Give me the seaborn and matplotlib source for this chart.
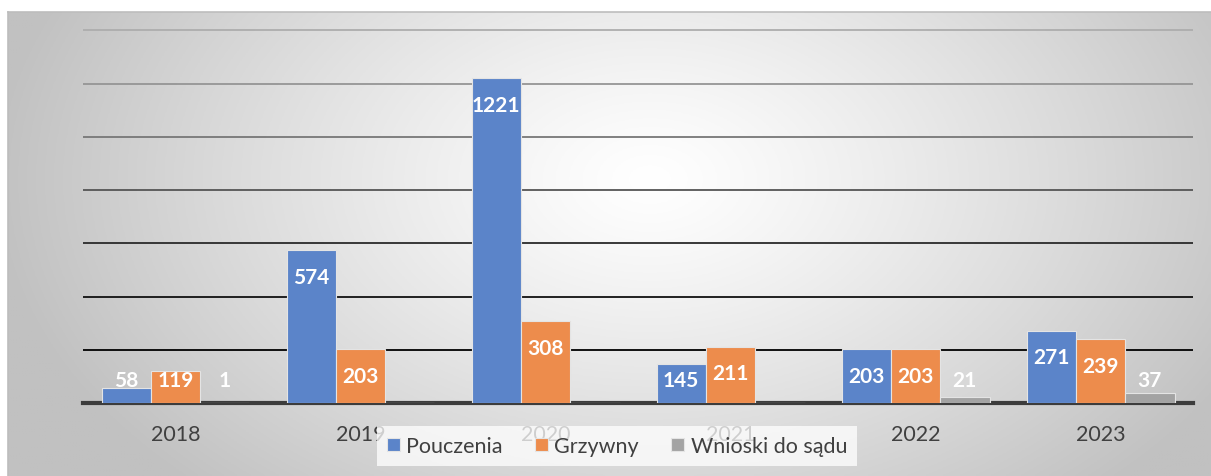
import numpy as np
import pandas as pd
import matplotlib.pyplot as plt
import seaborn as sns

# dane z wykresu
lata = ['2018', '2019', '2020', '2021', '2022', '2023']
pouczenia = [58, 574, 1221, 145, 203, 271]
grzywny = [119, 203, 308, 211, 203, 239]
wnioski = [1, 0, 0, 0, 21, 37]
serie = ['Pouczenia', 'Grzywny', 'Wnioski do sądu']
kolory = ['#5B84C9', '#ED8C4C', '#A3A3A3']

df = pd.DataFrame({
    'rok': lata * 3,
    'typ': [s for s in serie for _ in lata],
    'wartosc': pouczenia + grzywny + wnioski,
})

sns.set_style('white')
plt.rcParams['font.family'] = ['Lato', 'DejaVu Sans']

W, H = 1211, 477
fig = plt.figure(figsize=(W / 100, H / 100), dpi=100)
fig.patch.set_facecolor('white')

# background panel with radial gradient
bg = fig.add_axes([8 / W, 0, 1 - 8 / W, (H - 13) / H], zorder=-1)
xx, yy = np.meshgrid(np.linspace(8, W, 400), np.linspace(13, H, 200))
r = np.sqrt(((xx - 650) / 660) ** 2 + ((yy - 180) / 430) ** 2)
shade = 255 - 62 * np.clip(r, 0, 1) ** 1.2
img = np.dstack([shade, shade, shade]) / 255
bg.imshow(img, extent=[0, 1, 0, 1], aspect='auto', origin='upper')
bg.set_xlim(0, 1)
bg.set_ylim(0, 1)
bg.set_xticks([])
bg.set_yticks([])
for s in ['right', 'bottom']:
    bg.spines[s].set_visible(False)
for s in ['top', 'left']:
    bg.spines[s].set_color('#BDBDBD')
    bg.spines[s].set_linewidth(1.2)

# main axes
ax = fig.add_axes([83 / W, 73 / H, 1110 / W, 386 / H])
ax.set_facecolor('none')
sns.barplot(data=df, x='rok', y='wartosc', hue='typ', hue_order=serie,
            palette=kolory, width=0.8, edgecolor='#E4E4E4', linewidth=0.8,
            saturation=1, ax=ax, zorder=3)

ax.set_xlim(-0.5, 5.5)
ax.set_ylim(0, 1450)
ax.set_yticks(range(200, 1401, 200))
ax.set_yticklabels([])
ax.set_xlabel('')
ax.set_ylabel('')
ax.tick_params(axis='both', length=0)
ax.tick_params(axis='x', pad=15, labelsize=15.5, labelcolor='#404040')

ax.grid(axis='y', linewidth=1.3)
grid_cols = ['#000000', '#111111', '#2a2a2a', '#555555', '#777777', '#959595', '#ADADAD']
for line, c in zip(ax.yaxis.get_gridlines(), grid_cols):
    line.set_color(c)
ax.set_axisbelow(True)

for s in ['top', 'right', 'left']:
    ax.spines[s].set_visible(False)
ax.spines['bottom'].set_color('#3C3C3C')
ax.spines['bottom'].set_linewidth(3)
ax.spines['bottom'].set_zorder(2)

# data labels, white bold, inside end
for cont in ax.containers:
    for bar, v in zip(cont, cont.datavalues):
        if v == 0:
            continue
        y = max(v - 100, 88)
        ax.text(bar.get_x() + bar.get_width() / 2, y, f'{int(v)}',
                ha='center', va='center', color='white', fontsize=15,
                fontweight='bold', zorder=5)

handles, labels = ax.get_legend_handles_labels()
ax.get_legend().remove()
fig.legend(handles, labels, loc='center', bbox_to_anchor=(617 / W, 1 - 447 / H),
           ncol=3, fontsize=15.5, frameon=True, facecolor='white', framealpha=0.75,
           edgecolor='none', fancybox=False, handlelength=0.6, handleheight=0.6,
           handletextpad=0.3, columnspacing=1.5, borderpad=0.45,
           labelcolor='#404040')

fig.savefig('out.png', dpi=100)
